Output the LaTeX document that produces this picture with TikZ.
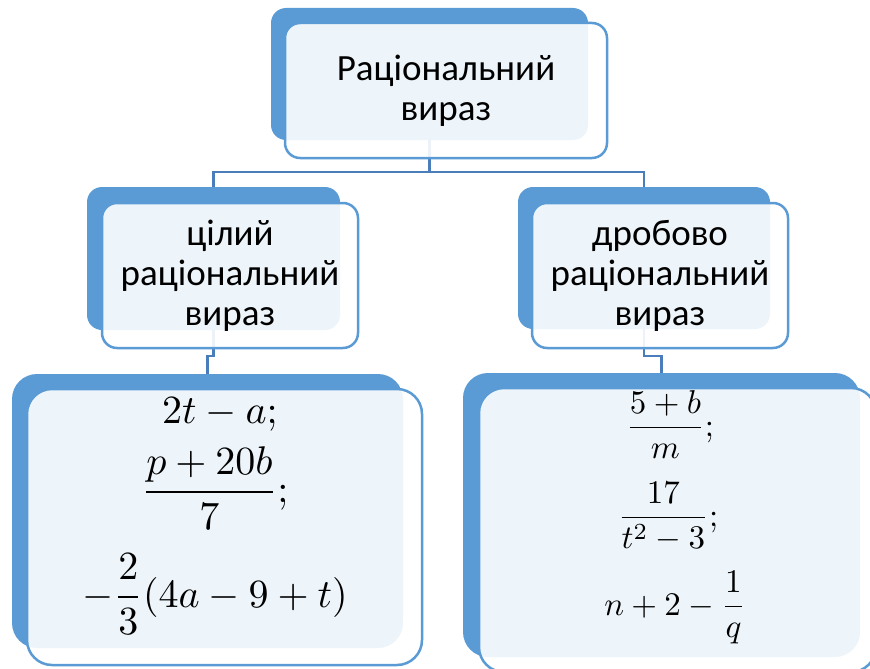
\documentclass[tikz,border=0pt]{standalone}
\usepackage{fontspec}
\setmainfont{Carlito}
\usepackage{amsmath}
\usepackage{graphicx}
\definecolor{backblue}{HTML}{5B9BD5}
\definecolor{linkblue}{HTML}{4A7EBB}
\newcommand{\mth}[1]{\scalebox{4}{$\displaystyle #1$}}
\newcommand{\mths}[1]{\scalebox{3.3}{$\displaystyle #1$}}
\tikzset{
  backbox/.style={fill=backblue, draw=none, rounded corners=15pt, inner sep=0pt},
  frontbox/.style={fill=white, fill opacity=0.9, text opacity=1, draw=backblue,
    line width=2.5pt, rounded corners=15pt, inner sep=0pt, align=center,
    font=\fontsize{37}{40}\selectfont},
  link/.style={draw=linkblue, line width=2.5pt},
  mathline/.style={anchor=base, inner sep=0pt}
}
\begin{document}
\begin{tikzpicture}[x=1pt, y=-1pt]
\useasboundingbox (0,0) rectangle (870,669);
% placement of the back boxes
\path
  node[minimum width=317pt, minimum height=132pt] (topback) at (429.5,74) {}
  node[minimum width=253pt, minimum height=143pt] (leftback) at (213.5,258.5) {}
  node[minimum width=252pt, minimum height=142pt] (rightback) at (644,258) {}
  node[minimum width=391pt, minimum height=274pt] (blback) at (207.5,511) {}
  node[minimum width=397pt, minimum height=284pt] (brback) at (661.5,515) {};
\coordinate (hub) at (429.5,172);
% connectors
\draw[link] (topback.center) -- (hub);
\draw[link] (leftback.center) -- (leftback.center |- hub) -- (rightback.center |- hub) -- (rightback.center);
\draw[link] (leftback.center) -- (213.5,356) -| (blback.north);
\draw[link] (rightback.center) -- (644,356) -| (brback.north);
% back boxes
\node[backbox, minimum width=317pt, minimum height=132pt] (topbackfill) at (topback) {};
\node[backbox, minimum width=253pt, minimum height=143pt] (leftbackfill) at (leftback) {};
\node[backbox, minimum width=252pt, minimum height=142pt] (rightbackfill) at (rightback) {};
\node[backbox, rounded corners=25pt, minimum width=391pt, minimum height=274pt] (blbackfill) at (blback) {};
\node[backbox, rounded corners=25pt, minimum width=397pt, minimum height=284pt] (brbackfill) at (brback) {};
% front boxes
\node[frontbox, minimum width=322pt, minimum height=135pt] (top) at (446,90.5) {Раціональний\\вираз};
\node[frontbox, minimum width=256pt, minimum height=145pt] (left) at (230,275.5) {цілий\\раціональний\\вираз};
\node[frontbox, minimum width=256pt, minimum height=145pt] (right) at (660,275.5) {дробово\\раціональний\\вираз};
\node[frontbox, rounded corners=25pt, minimum width=395pt, minimum height=276pt] (bl) at (224.5,527) {};
\node[frontbox, rounded corners=25pt, minimum width=397pt, minimum height=284pt] (br) at (677.5,530) {};
% math
\node[mathline] (l1) at (220,423) {\mth{2t-a;}};
\node[mathline] (l2) at (215,502) {\mth{\frac{p+20b}{7};}};
\node[mathline] (l3) at (215,607) {\mth{-\frac{2}{3}(4a-9+t)}};
\node[mathline] (r1) at (670,436) {\mths{\frac{5+b}{m};}};
\node[mathline] (r2) at (668,526) {\mths{\frac{17}{t^2-3};}};
\node[mathline] (r3) at (675,615) {\mths{n+2-\frac{1}{q}}};
\end{tikzpicture}
\end{document}
